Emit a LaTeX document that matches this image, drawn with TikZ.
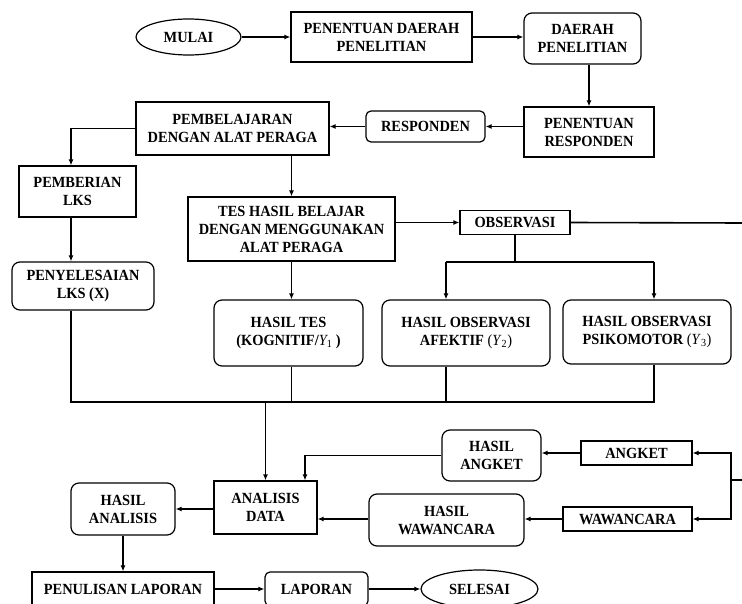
\documentclass[tikz,border=0pt]{standalone}
\usepackage{fontspec}
\setmainfont{Liberation Serif}[FakeStretch=0.93]
\usetikzlibrary{arrows.meta,shapes.geometric}
\newcommand\ysub[1]{{\mdseries(\textit{Y}\textsubscript{#1})}}
\begin{document}
\begin{tikzpicture}[x=1pt,y=-1pt,
  box/.style={draw,line width=1.2pt,align=center,inner sep=0pt,
    font=\bfseries\fontsize{15.5}{18}\selectfont},
  rbox/.style={box,rounded corners=8pt},
  oval/.style={box,ellipse},
  arr/.style={line width=1.6pt,-{Latex[length=6pt,width=5pt]}},
  ln/.style={line width=1.6pt}]
\useasboundingbox (0,0) rectangle (742,604);
\clip (0,0) rectangle (742,604);

% nodes
\node[oval,minimum width=105pt,minimum height=36pt] (mulai) at (188.5,37) {MULAI};
\node[box,minimum width=181pt,minimum height=50pt] (pdp) at (381.5,37) {PENENTUAN DAERAH\\PENELITIAN};
\node[rbox,minimum width=117pt,minimum height=51pt] (dp) at (582.5,38.5) {DAERAH\\PENELITIAN};
\node[box,minimum width=130pt,minimum height=50pt] (pr) at (589,132) {PENENTUAN\\RESPONDEN};
\node[rbox,minimum width=119pt,minimum height=31pt,rounded corners=5pt] (resp) at (425.5,126.5) {RESPONDEN};
\node[box,minimum width=193pt,minimum height=53pt] (pemb) at (232.5,128.5) {PEMBELAJARAN\\DENGAN ALAT PERAGA};
\node[box,minimum width=117pt,minimum height=51pt] (pemberian) at (77.5,191.5) {PEMBERIAN\\LKS};
\node[rbox,minimum width=142pt,minimum height=48pt] (peny) at (83,286) {PENYELESAIAN\\LKS (X)};
\node[box,minimum width=207pt,minimum height=64pt] (tes) at (291.5,229) {TES HASIL BELAJAR\\DENGAN MENGGUNAKAN\\ALAT PERAGA};
\node[box,minimum width=110pt,minimum height=24pt] (obs) at (515,222.5) {OBSERVASI};
\node[rbox,minimum width=149pt,minimum height=66pt] (hasiltes) at (288.5,333) {HASIL TES\\(KOGNITIF/{\mdseries\itshape Y}\textsubscript{\mdseries 1} )};
\node[rbox,minimum width=168pt,minimum height=66pt] (afektif) at (466,333) {HASIL OBSERVASI\\AFEKTIF \ysub{2}};
\node[rbox,minimum width=168pt,minimum height=64pt] (psiko) at (647,332) {HASIL OBSERVASI\\PSIKOMOTOR \ysub{3}};
\node[box,minimum width=103pt,minimum height=53pt] (analisis) at (265.5,507.5) {ANALISIS\\DATA};
\node[rbox,minimum width=99pt,minimum height=51pt] (hangket) at (491.5,455.5) {HASIL\\ANGKET};
\node[box,minimum width=111pt,minimum height=24pt] (angket) at (636.5,453) {ANGKET};
\node[box,minimum width=129pt,minimum height=24pt] (waw) at (627.5,519) {WAWANCARA};
\node[rbox,minimum width=155pt,minimum height=52pt] (hwaw) at (446.5,520) {HASIL\\WAWANCARA};
\node[rbox,minimum width=104pt,minimum height=52pt] (hanalisis) at (123,509) {HASIL\\ANALISIS};
\node[box,minimum width=182pt,minimum height=34pt] (penulisan) at (123,589) {PENULISAN LAPORAN};
\node[rbox,minimum width=103pt,minimum height=34pt,rounded corners=5pt] (laporan) at (316.5,589) {LAPORAN};
\node[oval,minimum width=117pt,minimum height=38pt] (selesai) at (479.5,589) {SELESAI};

% helper coordinates
\coordinate (lksx) at (71,0);
\coordinate (afx) at (446,0);
\coordinate (psx) at (654,0);
\coordinate (split) at (0,262);
\coordinate (bus) at (0,402);
\coordinate (anx) at (305,0);
\coordinate (edgeA) at (742,223);
\coordinate (br) at (731,480);
\coordinate (edgeB) at (742,480);

% connectors
\draw[arr] (mulai.east) -- (pdp.west);
\draw[arr] (pdp.east) -- (dp.west |- pdp.east);
\draw[arr] (dp.south -| pr.north) -- (pr.north);
\draw[arr] (pr.west |- resp.east) -- (resp.east);
\draw[arr] (resp.west) -- (pemb.east |- resp.west);
\draw[arr] (pemb.west) -| (lksx |- pemberian.north);
\draw[arr] (lksx |- pemberian.south) -- (lksx |- peny.north);
\draw[arr] (pemb.south -| tes.north) -- (tes.north);
\draw[arr] (tes.east |- obs.west) -- (obs.west);
\draw[ln] (obs.east) -- (edgeA);
\draw[ln] (obs.south) -- (obs.south |- split);
\draw[ln] (afx |- split) -- (psx |- split);
\draw[arr] (afx |- split) -- (afx |- afektif.north);
\draw[arr] (psx |- split) -- (psx |- psiko.north);
\draw[arr] (tes.south) -- (tes.south |- hasiltes.north);
\draw[ln] (lksx |- peny.south) -- (lksx |- bus) -- (psx |- bus) -- (psx |- psiko.south);
\draw[ln] (tes.south |- hasiltes.south) -- (tes.south |- bus);
\draw[ln] (afx |- afektif.south) -- (afx |- bus);
\draw[arr] (analisis.north |- bus) -- (analisis.north);
\draw[arr] (hangket.west) -| (anx |- analisis.north);
\draw[arr] (angket.west) -- (hangket.east |- angket.west);
\draw[arr] (waw.west) -- (hwaw.east |- waw.west);
\draw[arr] (hwaw.west |- waw.west) -- (analisis.east |- waw.west);
\draw[ln] (edgeB) -- (br);
\draw[arr] (br) |- (angket.east);
\draw[arr] (br) |- (waw.east);
\draw[arr] (analisis.west |- hanalisis.east) -- (hanalisis.east);
\draw[arr] (hanalisis.south) -- (hanalisis.south |- penulisan.north);
\draw[arr] (penulisan.east) -- (laporan.west);
\draw[arr] (laporan.east) -- (selesai.west);
\end{tikzpicture}
\end{document}
